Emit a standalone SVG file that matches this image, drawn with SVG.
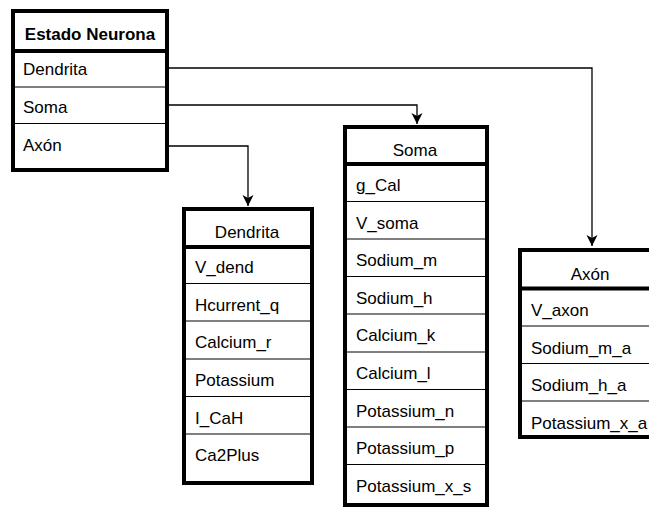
<svg xmlns="http://www.w3.org/2000/svg" width="649" height="508" viewBox="0 0 649 508">
  <style>
    .box { fill: #ffffff; stroke: #000000; stroke-width: 4; }
    .hdr { stroke: #000000; stroke-width: 4; }
    .sep { stroke: #000000; stroke-width: 1; }
    .lbl { font-family: "Liberation Sans", Arial, sans-serif; font-size: 17px; fill: #000000; }
    .ttl { font-family: "Liberation Sans", Arial, sans-serif; font-size: 17px; fill: #000000; text-anchor: middle; }
    .bold { font-weight: bold; }
    .edge { fill: none; stroke: #000000; stroke-width: 1.3; }
  </style>
  <defs>
    <marker id="arrow" markerUnits="userSpaceOnUse" markerWidth="12" markerHeight="12" viewBox="0 0 12 12" refX="11" refY="6" orient="auto">
      <path d="M0,0.5 L11,6 L0,11.5 L3,6 Z" fill="#000000"/>
    </marker>
  </defs>

  <!-- Connectors -->
  <g id="connectors">
    <path class="edge" d="M169,68 H592 V246" marker-end="url(#arrow)"/>
    <path class="edge" d="M169,105 H417 V124" marker-end="url(#arrow)"/>
    <path class="edge" d="M169,146 H248 V206" marker-end="url(#arrow)"/>
  </g>

  <!-- Estado Neurona -->
  <g id="estado-neurona">
    <rect class="box" x="13" y="11" width="154" height="159"/>
    <line class="hdr" x1="13" y1="51" x2="167" y2="51"/>
    <line class="sep" x1="15" y1="87" x2="165" y2="87"/>
    <line class="sep" x1="15" y1="123.5" x2="165" y2="123.5"/>
    <text class="ttl bold" x="90" y="40">Estado Neurona</text>
    <text class="lbl" x="23" y="75">Dendrita</text>
    <text class="lbl" x="23" y="113">Soma</text>
    <text class="lbl" x="23" y="151">Axón</text>
  </g>

  <!-- Dendrita -->
  <g id="dendrita">
    <rect class="box" x="184" y="209" width="128" height="274"/>
    <line class="hdr" x1="184" y1="247" x2="312" y2="247"/>
    <line class="sep" x1="186" y1="283.5" x2="310" y2="283.5"/>
    <line class="sep" x1="186" y1="321" x2="310" y2="321"/>
    <line class="sep" x1="186" y1="359" x2="310" y2="359"/>
    <line class="sep" x1="186" y1="396.5" x2="310" y2="396.5"/>
    <line class="sep" x1="186" y1="434" x2="310" y2="434"/>
    <text class="ttl" x="247" y="238">Dendrita</text>
    <text class="lbl" x="195" y="273">V_dend</text>
    <text class="lbl" x="195" y="311">Hcurrent_q</text>
    <text class="lbl" x="195" y="348">Calcium_r</text>
    <text class="lbl" x="195" y="386">Potassium</text>
    <text class="lbl" x="195" y="424">I_CaH</text>
    <text class="lbl" x="195" y="461">Ca2Plus</text>
  </g>

  <!-- Soma -->
  <g id="soma">
    <rect class="box" x="345" y="127" width="142" height="378"/>
    <line class="hdr" x1="345" y1="164" x2="487" y2="164"/>
    <line class="sep" x1="347" y1="201.5" x2="485" y2="201.5"/>
    <line class="sep" x1="347" y1="239" x2="485" y2="239"/>
    <line class="sep" x1="347" y1="276.5" x2="485" y2="276.5"/>
    <line class="sep" x1="347" y1="314" x2="485" y2="314"/>
    <line class="sep" x1="347" y1="352" x2="485" y2="352"/>
    <line class="sep" x1="347" y1="389.5" x2="485" y2="389.5"/>
    <line class="sep" x1="347" y1="427" x2="485" y2="427"/>
    <line class="sep" x1="347" y1="464.5" x2="485" y2="464.5"/>
    <text class="ttl" x="415" y="156">Soma</text>
    <text class="lbl" x="356" y="191">g_Cal</text>
    <text class="lbl" x="356" y="229">V_soma</text>
    <text class="lbl" x="356" y="266">Sodium_m</text>
    <text class="lbl" x="356" y="304">Sodium_h</text>
    <text class="lbl" x="356" y="341">Calcium_k</text>
    <text class="lbl" x="356" y="379">Calcium_l</text>
    <text class="lbl" x="356" y="417">Potassium_n</text>
    <text class="lbl" x="356" y="454">Potassium_p</text>
    <text class="lbl" x="356" y="492">Potassium_x_s</text>
  </g>

  <!-- Axón -->
  <g id="axon">
    <rect class="box" x="520" y="250" width="144" height="187"/>
    <line class="hdr" x1="520" y1="288.5" x2="664" y2="288.5"/>
    <line class="sep" x1="522" y1="326" x2="662" y2="326"/>
    <line class="sep" x1="522" y1="363.5" x2="662" y2="363.5"/>
    <line class="sep" x1="522" y1="401" x2="662" y2="401"/>
    <text class="ttl" x="590" y="280">Axón</text>
    <text class="lbl" x="531" y="316">V_axon</text>
    <text class="lbl" x="531" y="354">Sodium_m_a</text>
    <text class="lbl" x="531" y="391">Sodium_h_a</text>
    <text class="lbl" x="531" y="429">Potassium_x_a</text>
  </g>
</svg>
